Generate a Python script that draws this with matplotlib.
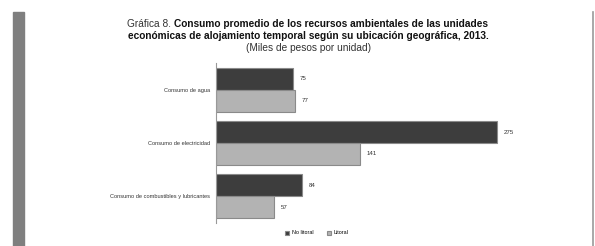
import matplotlib.pyplot as plt
from matplotlib.patches import Rectangle
import numpy as np

plt.rcParams['font.family'] = ['Liberation Sans', 'DejaVu Sans']

categories = ['Consumo de agua', 'Consumo de electricidad',
              'Consumo de combustibles y lubricantes']
no_litoral = [75, 275, 84]
litoral = [77, 141, 57]
series_names = ['No litoral', 'Litoral']

W, H = 595, 246
fig = plt.figure(figsize=(W / 100, H / 100), dpi=100)

# decoration: grey strip on the left and frame line on the right
fig.patches.append(Rectangle((12.7 / W, 0), 11.3 / W, 1 - 12 / H,
                             transform=fig.transFigure, color='#7f7f7f', zorder=0))
fig.add_artist(plt.Line2D([593 / W, 593 / W], [0, 1 - 12 / H],
                          transform=fig.transFigure, color='#9a9a9a', lw=1.2))

ax = fig.add_axes([216 / W, 23 / H, (560 - 216) / W, (183 - 23) / H])

y = np.arange(len(categories))
h = 0.41
b1 = ax.barh(y - h / 2, no_litoral, h, color='#3d3d3d', edgecolor='#8a8a8a',
             lw=0.8, label=series_names[0])
b2 = ax.barh(y + h / 2, litoral, h, color='#b3b3b3', edgecolor='#8a8a8a',
             lw=0.8, label=series_names[1])

for bars in (b1, b2):
    for r in bars:
        ax.annotate('{}'.format(int(r.get_width())),
                    xy=(r.get_width(), r.get_y() + r.get_height() / 2),
                    xytext=(5, 0), textcoords='offset points',
                    ha='left', va='center', fontsize=4.4, color='#333333')

ax.set_xlim(0, 337)
ax.set_ylim(len(categories) - 0.5, -0.5)
ax.set_yticks(y)
ax.set_yticklabels(categories, fontsize=4.1, color='#333333')
ax.tick_params(axis='y', length=0, pad=4)
ax.set_xticks([])
for s in ('top', 'right', 'bottom'):
    ax.spines[s].set_visible(False)
ax.spines['left'].set_color('#999999')
ax.spines['left'].set_linewidth(0.8)

fig.legend(handles=[b1, b2], loc='center', bbox_to_anchor=(317 / W, 1 - 233 / H),
           ncol=2, frameon=False, fontsize=3.9, handlelength=0.7, handleheight=0.7,
           handletextpad=0.5, columnspacing=2.5)

# title
fs = 7.3
t1 = fig.text(127 / W, 1 - 27 / H, 'Gráfica 8. ', fontsize=fs, color='#333333',
              ha='left', va='baseline')
ax.annotate('Consumo promedio de los recursos ambientales de las unidades',
            xy=(1, 0), xycoords=t1, ha='left', va='bottom', fontsize=fs,
            fontweight='bold', color='#111111', annotation_clip=False)
fig.text(308 / W, 1 - 39 / H,
         'económicas de alojamiento temporal según su ubicación geográfica, 2013.',
         fontsize=fs, fontweight='bold', color='#111111', ha='center', va='baseline')
fig.text(308 / W, 1 - 51 / H, '(Miles de pesos por unidad)', fontsize=fs,
         color='#333333', ha='center', va='baseline')

fig.savefig('out.png', dpi=100)
